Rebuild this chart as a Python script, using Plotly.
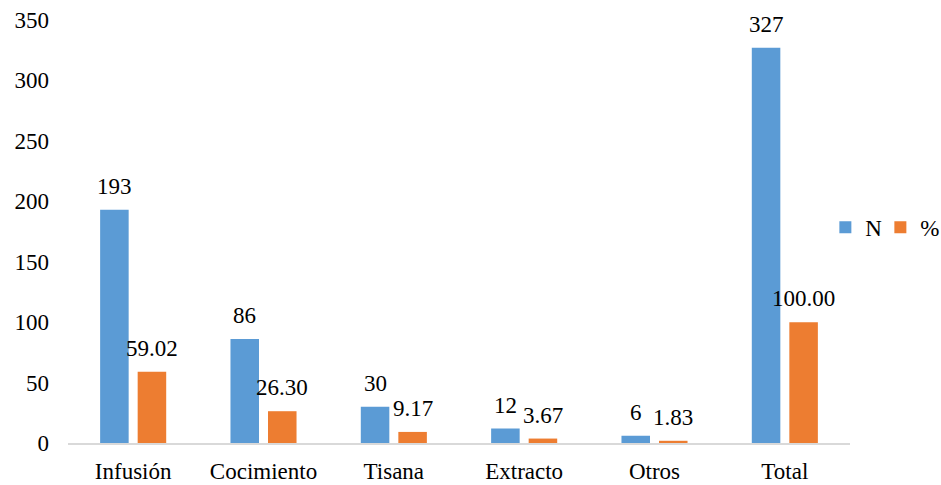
import plotly.graph_objects as go

categories = ["Infusión", "Cocimiento", "Tisana", "Extracto", "Otros", "Total"]
n_values = [193, 86, 30, 12, 6, 327]
pct_values = [59.02, 26.30, 9.17, 3.67, 1.83, 100.00]
y_ticks = [0, 50, 100, 150, 200, 250, 300, 350]

FONT = "Times New Roman, Liberation Serif, DejaVu Serif, serif"
FS = 23
BLUE = "#5b9bd5"
ORANGE = "#ed7d31"
BARGAP = 0.424
BARGROUPGAP = 0.24

fig = go.Figure()
fig.add_trace(go.Bar(
    name="N", x=categories, y=n_values,
    marker=dict(color=BLUE, line=dict(width=0)),
))
fig.add_trace(go.Bar(
    name="%", x=categories, y=pct_values,
    marker=dict(color=ORANGE, line=dict(width=0)),
))
# empty, transparent entry that only widens the legend box so "%" is not clipped
fig.add_trace(go.Scatter(
    x=[None], y=[None], mode="markers", name=" ",
    marker=dict(color="rgba(0,0,0,0)"), hoverinfo="skip",
))

# value labels above each bar, offset to the centre of its slot in the group
slot_offset = (1 - BARGAP) / 4
for i, (n, p) in enumerate(zip(n_values, pct_values)):
    for dx, val, txt in ((-slot_offset, n, f"{n:d}"), (slot_offset, p, f"{p:.2f}")):
        fig.add_annotation(
            x=i + dx, y=val, xref="x", yref="y", text=txt,
            showarrow=False, xanchor="center", yanchor="bottom", yshift=9,
            font=dict(family=FONT, size=FS, color="#000000"),
        )

fig.update_layout(
    width=941, height=485,
    margin=dict(l=68, r=91, t=20, b=42, autoexpand=False),
    paper_bgcolor="white", plot_bgcolor="white",
    font=dict(family=FONT, size=FS, color="#000000"),
    barmode="group", bargap=BARGAP, bargroupgap=BARGROUPGAP,
    showlegend=True,
    legend=dict(orientation="h", x=0.9685, y=0.51, xanchor="left", yanchor="middle",
                font=dict(family=FONT, size=FS), itemwidth=30, entrywidth=10,
                bgcolor="rgba(0,0,0,0)"),
)
fig.update_xaxes(
    showline=True, linecolor="#d9d9d9", linewidth=2,
    showgrid=False, ticks="", ticklabelstandoff=6,
    tickfont=dict(family=FONT, size=FS),
)
fig.update_yaxes(
    range=[0, 350], tickvals=y_ticks, showgrid=False, zeroline=False,
    showline=False, ticks="", ticklabelstandoff=18,
    tickfont=dict(family=FONT, size=FS),
)

fig.write_html("out.html")
